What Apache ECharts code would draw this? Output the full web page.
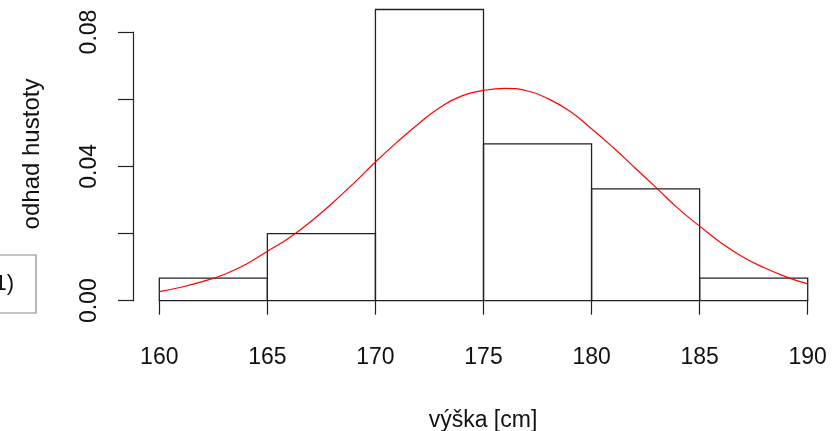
<!DOCTYPE html>
<html lang="cs">
<head>
    <meta charset="UTF-8">
    <title>Histogram výšky</title>
    <script src="https://cdn.jsdelivr.net/npm/echarts@6/dist/echarts.min.js"></script>
    <style>
        html, body { margin: 0; padding: 0; background: #fff; }
        #main { width: 840px; height: 431px; }
    </style>
</head>
<body>
    <div id="main"></div>
    <script type="text/javascript">
        // histogram: levé hrany tříd a odhad hustoty (výška sloupce)
        var binStarts = [160, 165, 170, 175, 180, 185];
        var binWidth = 5;
        var density = [0.0067, 0.0200, 0.0867, 0.0467, 0.0333, 0.0067];

        // červená křivka hustoty
        var curveX = [160, 161, 162, 163, 164, 165, 166, 167, 168, 169, 170, 171, 172, 173, 174, 175,
            176, 177, 178, 179, 180, 181, 182, 183, 184, 185, 186, 187, 188, 189, 190];
        var curveY = [0.0027, 0.0040, 0.0057, 0.0078, 0.0108, 0.0147, 0.0187, 0.0235, 0.0290, 0.0350,
            0.0413, 0.0472, 0.0527, 0.0576, 0.0610, 0.0626, 0.0632, 0.0625, 0.0601, 0.0564, 0.0512,
            0.0456, 0.0396, 0.0336, 0.0275, 0.0222, 0.0172, 0.0130, 0.0098, 0.0071, 0.0050];

        var yLabels = ['0.00', '0.04', '0.08'];

        var bars = binStarts.map(function (s, i) { return [s, s + binWidth, density[i]]; });
        var curve = curveX.map(function (x, i) { return [x, curveY[i]]; });

        var font = 'Liberation Sans, Arial, sans-serif';
        var myChart = echarts.init(document.getElementById('main'));

        var option = {
            animation: false,
            grid: { left: 159.3, right: 32.3, top: 32, bottom: 130.3 },
            xAxis: {
                type: 'value', min: 160, max: 190, interval: 5,
                offset: 12.5,
                splitLine: { show: false },
                axisLine: { lineStyle: { color: '#222', width: 1.2 } },
                axisTick: { length: 14, lineStyle: { color: '#222', width: 1.2 } },
                axisLabel: { color: '#111', fontSize: 23, fontFamily: font, margin: 33 }
            },
            yAxis: {
                type: 'value', min: 0, max: 0.08, interval: 0.02,
                offset: 26.3,
                splitLine: { show: false },
                axisLine: { show: true, lineStyle: { color: '#222', width: 1.2 } },
                axisTick: { show: true, length: 15, lineStyle: { color: '#222', width: 1.2 } },
                axisLabel: {
                    color: '#111', fontSize: 23, fontFamily: font, rotate: 90, margin: 32,
                    formatter: function (v) {
                        var s = v.toFixed(2);
                        return yLabels.indexOf(s) >= 0 ? s : '';
                    }
                }
            },
            series: [{
                type: 'custom',
                clip: false,
                data: bars,
                renderItem: function (params, api) {
                    var p0 = api.coord([api.value(0), api.value(2)]);
                    var p1 = api.coord([api.value(1), 0]);
                    return {
                        type: 'rect',
                        shape: { x: p0[0], y: p0[1], width: p1[0] - p0[0], height: p1[1] - p0[1] },
                        style: { fill: 'none', stroke: '#222', lineWidth: 1.3 }
                    };
                }
            }, {
                type: 'line',
                data: curve,
                showSymbol: false,
                smooth: true,
                clip: false,
                z: 5,
                lineStyle: { color: '#ff0000', width: 1.2 }
            }],
            graphic: [{
                type: 'text', x: 483, y: 421,
                style: { text: 'výška [cm]', font: '23px ' + font, fill: '#111', align: 'center', verticalAlign: 'middle' }
            }, {
                type: 'text', x: 32, y: 154, rotation: Math.PI / 2,
                style: { text: 'odhad hustoty', font: '24px ' + font, fill: '#111', align: 'center', verticalAlign: 'middle' }
            }, {
                type: 'rect', shape: { x: -60, y: 255, width: 96, height: 58 },
                style: { fill: '#fff', stroke: '#888', lineWidth: 1.2 }
            }, {
                type: 'text', x: 14, y: 284,
                style: { text: '1)', font: '22px ' + font, fill: '#111', align: 'right', verticalAlign: 'middle' }
            }]
        };

        myChart.setOption(option);
    </script>
</body>
</html>
